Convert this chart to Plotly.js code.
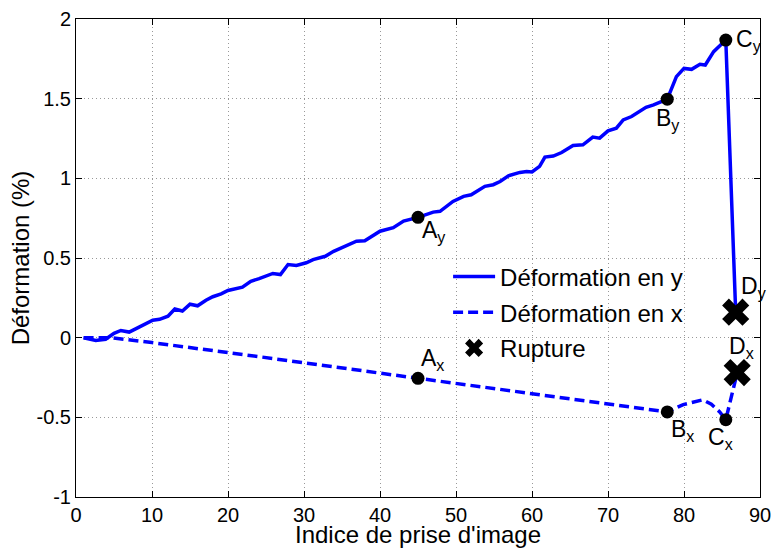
<!DOCTYPE html>
<html>
<head>
<meta charset="utf-8">
<script src="https://cdn.plot.ly/plotly-3.0.1.min.js"></script>
<style>html,body{margin:0;padding:0;background:#fff;}#chart{width:772px;height:548px;}</style>
</head>
<body>
<div id="chart"></div>
<script>
// Déformation en y (solid line)
const defYIdx = [1, 2.6, 3.9, 5, 5.9, 7, 8.3, 10.1, 11, 12.1, 13, 14, 15, 16, 17.1, 18, 19.1, 20, 21.9, 23, 24.1, 25.9, 26.9, 27.9, 29, 30.3, 31.2, 32.8, 33.9, 35.2, 36.9, 38, 40, 41.75, 43.1, 45, 47, 47.9, 49.6, 51, 52, 53.8, 54.9, 55.8, 56.9, 58.4, 59.3, 60, 61, 61.7, 62.8, 63.9, 65.4, 66.7, 68, 68.9, 70, 71.1, 72, 73.1, 75, 76, 77.8, 79, 80, 81, 82.1, 82.8, 83.9, 85.5, 86.8];
const defYVal = [0, -0.017, -0.01, 0.027, 0.045, 0.035, 0.066, 0.11, 0.115, 0.135, 0.18, 0.167, 0.21, 0.2, 0.235, 0.257, 0.275, 0.296, 0.317, 0.354, 0.37, 0.403, 0.396, 0.459, 0.453, 0.47, 0.49, 0.511, 0.542, 0.567, 0.605, 0.608, 0.668, 0.69, 0.732, 0.755, 0.788, 0.793, 0.855, 0.887, 0.897, 0.95, 0.96, 0.98, 1.016, 1.037, 1.043, 1.04, 1.075, 1.133, 1.14, 1.162, 1.206, 1.21, 1.259, 1.252, 1.298, 1.315, 1.367, 1.388, 1.446, 1.461, 1.497, 1.638, 1.69, 1.684, 1.716, 1.711, 1.795, 1.868, 0.16];

// Déformation en x (dashed line)
const defXIdx = [1, 4.5, 10, 20, 24.2, 45, 77.8, 79.9, 82.5, 83.6, 84.7, 85.5, 87.0];
const defXVal = [0, 0, -0.031, -0.092, -0.12, -0.255, -0.466, -0.42, -0.39, -0.418, -0.466, -0.515, -0.22];

// Key points (circles)
const ptIdx = [45, 77.8, 85.5, 45, 77.8, 85.5];
const ptVal = [0.755, 1.497, 1.868, -0.255, -0.466, -0.515];
const ptLabels = ['A<sub>y</sub>', 'B<sub>y</sub>', 'C<sub>y</sub>', 'A<sub>x</sub>', 'B<sub>x</sub>', 'C<sub>x</sub>'];

// Rupture points
const rupIdx = [86.8, 87.0];
const rupVal = [0.16, -0.219];
const rupLabels = ['D<sub>y</sub>', 'D<sub>x</sub>'];

// Axis ticks
const xTickVals = [0, 10, 20, 30, 40, 50, 60, 70, 80, 90];
const yTickVals = [-1, -0.5, 0, 0.5, 1, 1.5, 2];
const yTickText = ['-1', '-0.5', '0', '0.5', '1', '1.5', '2'];

const FONT = 'Liberation Sans, Arial, Helvetica, sans-serif';
const BLUE = '#0000ff';

const traces = [
  {x: defYIdx, y: defYVal, mode: 'lines', name: 'Déformation en y', legendgroup: 'g1',
   line: {color: BLUE, width: 3.5}},
  {x: defXIdx, y: defXVal, mode: 'lines', name: 'Déformation en x', legendgroup: 'g2',
   line: {color: BLUE, width: 3.5, dash: '10px,5px'}},
  {x: ptIdx, y: ptVal, mode: 'markers', showlegend: false,
   marker: {color: '#000', size: 13, symbol: 'circle'}},
  {x: rupIdx, y: rupVal, mode: 'markers', name: 'Rupture', legendgroup: 'g3',
   marker: {color: '#000', size: 24, symbol: 'x', line: {width: 0}}}
];

// label offsets [xshift, yshift, yanchor]
const ptOff = [[2, 2, 'top'], [-13, -4, 'top'], [8, 0, 'middle'], [1, 2, 'bottom'], [2, -2, 'top'], [-20, -2, 'top']];
const rupOff = [[3, 8, 'bottom'], [-10, 9, 'bottom']];

const annotations = [];
ptIdx.forEach((xv, i) => annotations.push({
  x: xv, y: ptVal[i], xref: 'x', yref: 'y', text: ptLabels[i], showarrow: false,
  xanchor: 'left', yanchor: ptOff[i][2], xshift: ptOff[i][0], yshift: ptOff[i][1],
  font: {family: FONT, size: 23, color: '#000'}
}));
rupIdx.forEach((xv, i) => annotations.push({
  x: xv, y: rupVal[i], xref: 'x', yref: 'y', text: rupLabels[i], showarrow: false,
  xanchor: 'left', yanchor: rupOff[i][2], xshift: rupOff[i][0], yshift: rupOff[i][1],
  font: {family: FONT, size: 23, color: '#000'}
}));

const axisCommon = {
  showline: true, linecolor: '#000', linewidth: 1, mirror: 'ticks',
  ticks: 'inside', ticklen: 6, tickcolor: '#000', tickwidth: 1,
  showgrid: true, gridcolor: '#999', gridwidth: 1, griddash: '1px,3px',
  zeroline: false, tickfont: {family: FONT, size: 20, color: '#000'}
};

const layout = {
  width: 772, height: 548,
  margin: {l: 76, r: 12, t: 19, b: 51, pad: 0},
  paper_bgcolor: '#fff', plot_bgcolor: '#fff',
  font: {family: FONT, color: '#000'},
  xaxis: Object.assign({}, axisCommon, {
    range: [0, 90], tickvals: xTickVals,
    title: {text: "Indice de prise d'image", font: {family: FONT, size: 24, color: '#000'}, standoff: 5}
  }),
  yaxis: Object.assign({}, axisCommon, {
    range: [-1, 2], tickvals: yTickVals, ticktext: yTickText,
    title: {text: 'Déformation (%)', font: {family: FONT, size: 24, color: '#000'}, standoff: 0}
  }),
  showlegend: true,
  legend: {x: 0.544, y: 0.5075, xanchor: 'left', yanchor: 'top', bgcolor: 'rgba(0,0,0,0)',
    borderwidth: 0, font: {family: FONT, size: 24, color: '#000'}, itemwidth: 42,
    tracegroupgap: 1.5, traceorder: 'grouped'},
  annotations: annotations
};

Plotly.newPlot('chart', traces, layout, {displayModeBar: false, staticPlot: true});
</script>
</body>
</html>
